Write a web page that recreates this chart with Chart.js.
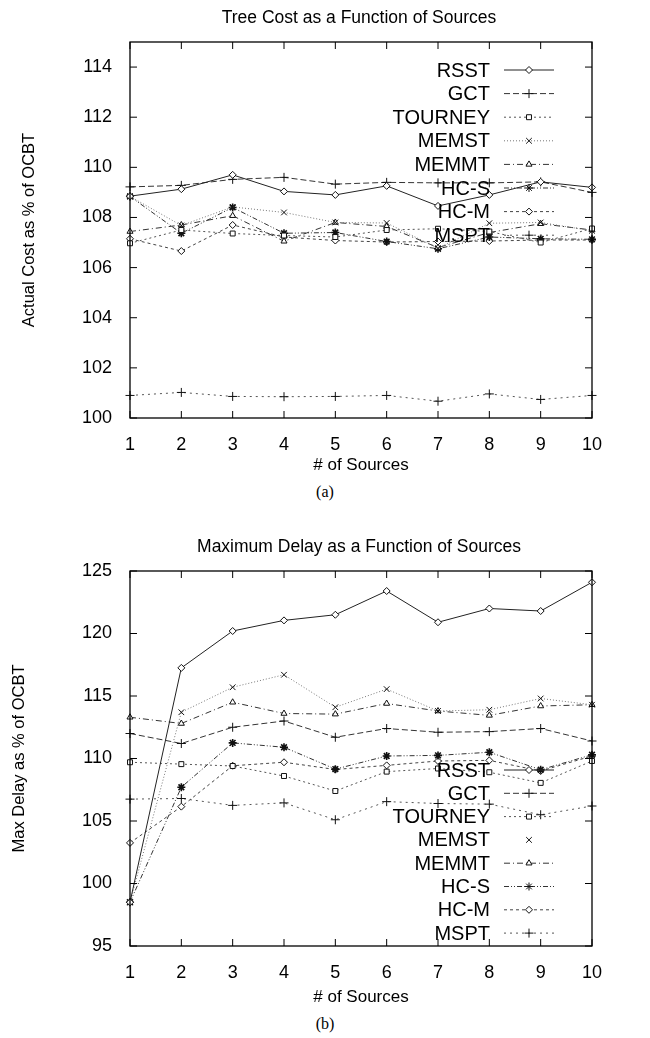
<!DOCTYPE html>
<html>
<head>
<meta charset="utf-8">
<script src="https://cdn.jsdelivr.net/npm/chart.js@4.4.1/dist/chart.umd.min.js"></script>
<style>
    body { margin: 0; background: #fff; width: 650px; height: 1038px; position: relative; overflow: hidden; }
    .box { position: absolute; left: 0; width: 650px; }
    .caption { position: absolute; left: 0; width: 650px; text-align: center; font-family: 'Liberation Serif', serif; font-size: 16px; color: #000; }
</style>
</head>
<body>
<div class="box" style="top:0;height:480px"><canvas id="costChart" width="650" height="480"></canvas></div>
<div class="caption" style="top:483px">(a)</div>
<div class="box" style="top:530px;height:482px"><canvas id="delayChart" width="650" height="482"></canvas></div>
<div class="caption" style="top:1015px">(b)</div>
<script>
const sources = [1, 2, 3, 4, 5, 6, 7, 8, 9, 10];
const names = ['RSST', 'GCT', 'TOURNEY', 'MEMST', 'MEMMT', 'HC-S', 'HC-M', 'MSPT'];

// tree cost, % of OCBT
const costRSST = [108.85, 109.13, 109.7, 109.04, 108.9, 109.26, 108.46, 108.9, 109.42, 109.2];
const costGCT = [109.22, 109.28, 109.52, 109.6, 109.33, 109.4, 109.38, 109.38, 109.42, 109.0];
const costTOURNEY = [106.97, 107.5, 107.36, 107.28, 107.22, 107.5, 107.55, 107.44, 107.0, 107.56];
const costMEMST = [108.84, 107.68, 108.42, 108.2, 107.8, 107.78, 106.77, 107.77, 107.8, 107.47];
const costMEMMT = [107.44, 107.7, 108.07, 107.05, 107.8, 107.64, 106.8, 107.4, 107.75, 107.5];
const costHCS = [108.84, 107.37, 108.4, 107.37, 107.4, 107.04, 106.75, 107.22, 107.15, 107.13];
const costHCM = [107.15, 106.66, 107.7, 107.22, 107.08, 107.02, 107.04, 107.06, 107.1, 107.1];
const costMSPT = [100.9, 101.02, 100.86, 100.85, 100.86, 100.9, 100.67, 100.96, 100.74, 100.9];

// max delay, % of OCBT
const delayRSST = [98.5, 117.25, 120.2, 121.05, 121.5, 123.4, 120.9, 122.0, 121.8, 124.1];
const delayGCT = [112.0, 111.2, 112.5, 113.0, 111.7, 112.4, 112.1, 112.15, 112.4, 111.4];
const delayTOURNEY = [109.7, 109.55, 109.4, 108.6, 107.4, 108.95, 109.2, 108.9, 108.05, 109.8];
const delayMEMST = [98.5, 113.7, 115.7, 116.7, 114.1, 115.55, 113.8, 113.9, 114.8, 114.3];
const delayMEMMT = [113.3, 112.8, 114.5, 113.6, 113.55, 114.4, 113.8, 113.45, 114.2, 114.3];
const delayHCS = [98.5, 107.7, 111.25, 110.9, 109.15, 110.2, 110.25, 110.5, 109.1, 110.3];
const delayHCM = [103.25, 106.15, 109.42, 109.7, 109.12, 109.45, 109.8, 109.85, 109.0, 110.2];
const delayMSPT = [106.75, 106.8, 106.25, 106.45, 105.1, 106.55, 106.4, 106.35, 105.5, 106.2];

const costTicks = [100, 102, 104, 106, 108, 110, 112, 114];
const delayTicks = [95, 100, 105, 110, 115, 120, 125];

const FONT = "'Liberation Sans', Arial, sans-serif";

// gnuplot-ish monochrome styles, one per method
const styles = [
    { color: '#222', dash: [], point: 'rectRot', r: 3.5 },
    { color: '#333', dash: [6, 3], point: 'cross', r: 4.5 },
    { color: '#555', dash: [2, 3], point: 'rect', r: 3.5 },
    { color: '#777', dash: [1, 2], point: 'crossRot', r: 4 },
    { color: '#333', dash: [6, 3, 1, 3], point: 'triangle', r: 3.5 },
    { color: '#333', dash: [5, 2, 1, 2, 1, 2], point: 'star', r: 4 },
    { color: '#444', dash: [3, 3], point: 'rectRot', r: 3.5 },
    { color: '#555', dash: [2, 4], point: 'cross', r: 4.5 }
];

function buildDatasets(series) {
    return series.map((values, i) => ({
        label: names[i],
        data: values,
        borderColor: styles[i].color,
        borderWidth: 1,
        borderDash: styles[i].dash,
        pointStyle: styles[i].point,
        pointRadius: styles[i].r,
        pointBorderColor: '#111',
        pointBackgroundColor: '#fff',
        pointBorderWidth: styles[i].point === 'star' ? 1.6 : 1,
        tension: 0,
        fill: false
    }));
}

// box round the plot with inward ticks on all four sides, title centred over the plot
const framePlugin = {
    id: 'frame',
    afterDatasetsDraw(chart, args, opts) {
        const { ctx, chartArea: a, scales } = chart;
        ctx.save();
        ctx.strokeStyle = '#000';
        ctx.lineWidth = 1.3;
        ctx.strokeRect(a.left, a.top, a.right - a.left, a.bottom - a.top);
        ctx.lineWidth = 1;
        ctx.beginPath();
        scales.x.ticks.forEach((t, i) => {
            const x = scales.x.getPixelForTick(i);
            ctx.moveTo(x, a.bottom); ctx.lineTo(x, a.bottom - 7);
            ctx.moveTo(x, a.top); ctx.lineTo(x, a.top + 7);
        });
        scales.y.ticks.forEach(t => {
            const y = scales.y.getPixelForValue(t.value);
            ctx.moveTo(a.left, y); ctx.lineTo(a.left + 7, y);
            ctx.moveTo(a.right, y); ctx.lineTo(a.right - 7, y);
        });
        ctx.stroke();
        ctx.fillStyle = '#000';
        ctx.font = '17.5px ' + FONT;
        ctx.textAlign = 'center';
        ctx.textBaseline = 'middle';
        ctx.fillText(opts.text, (a.left + a.right) / 2 - 2, a.top - 24);
        ctx.restore();
    }
};

// legend drawn inside the plot, labels right aligned with a sample to the right
const keyPlugin = {
    id: 'key',
    afterDatasetsDraw(chart, args, opts) {
        const { ctx, chartArea: a } = chart;
        const textX = a.right - opts.right;
        ctx.save();
        ctx.font = '20px ' + FONT;
        ctx.textAlign = 'right';
        ctx.textBaseline = 'middle';
        chart.data.datasets.forEach((ds, i) => {
            const y = a.top + opts.top + i * opts.step;
            ctx.fillStyle = '#000';
            ctx.fillText(ds.label, textX, y + 1);
            if (!(opts.pointOnly || []).includes(ds.label)) {
                ctx.strokeStyle = ds.borderColor;
                ctx.lineWidth = 1;
                ctx.setLineDash(ds.borderDash);
                ctx.beginPath();
                ctx.moveTo(textX + 14, y);
                ctx.lineTo(textX + 64, y);
                ctx.stroke();
                ctx.setLineDash([]);
            }
            ctx.strokeStyle = '#111';
            ctx.fillStyle = '#fff';
            Chart.helpers.drawPoint(ctx, {
                pointStyle: ds.pointStyle, rotation: 0,
                radius: ds.pointRadius, borderWidth: ds.pointBorderWidth
            }, textX + 39, y);
        });
        ctx.restore();
    }
};

function makeChart(id, cfg) {
    return new Chart(document.getElementById(id), {
        type: 'line',
        data: { labels: sources, datasets: buildDatasets(cfg.series) },
        options: {
            responsive: false,
            animation: false,
            layout: { padding: { top: cfg.padTop, right: 58, left: 0, bottom: 0 } },
            plugins: {
                legend: { display: false },
                tooltip: { enabled: false },
                title: { display: false },
                frame: { text: cfg.title },
                key: cfg.key
            },
            scales: {
                x: {
                    type: 'category',
                    offset: false,
                    grid: { display: false },
                    border: { display: false },
                    ticks: { color: '#000', font: { family: FONT, size: 18 }, padding: 8, maxRotation: 0 },
                    title: {
                        display: true, text: '# of Sources', color: '#000',
                        font: { family: FONT, size: 17 }, padding: { top: 0, bottom: 4 }
                    },
                    afterFit(scale) { scale.height = cfg.xHeight; }
                },
                y: {
                    min: cfg.min,
                    max: cfg.max,
                    afterBuildTicks(scale) { scale.ticks = cfg.ticks.map(v => ({ value: v })); },
                    grid: { display: false },
                    border: { display: false },
                    ticks: { color: '#000', font: { family: FONT, size: 18 }, padding: 10 },
                    title: {
                        display: true, text: cfg.yTitle, color: '#000',
                        font: { family: FONT, size: 16.5 }, padding: { top: cfg.yTitlePad, bottom: 0 }
                    },
                    afterFit(scale) { scale.width = 130; }
                }
            }
        },
        plugins: [framePlugin, keyPlugin]
    });
}

document.addEventListener('DOMContentLoaded', () => {
    makeChart('costChart', {
        title: 'Tree Cost as a Function of Sources',
        yTitle: 'Actual Cost as % of OCBT',
        series: [costRSST, costGCT, costTOURNEY, costMEMST, costMEMMT, costHCS, costHCM, costMSPT],
        min: 100, max: 115, ticks: costTicks,
        padTop: 42, xHeight: 62, yTitlePad: 20,
        key: { top: 28, step: 23.6, right: 102 }
    });
    makeChart('delayChart', {
        title: 'Maximum Delay as a Function of Sources',
        yTitle: 'Max Delay as % of OCBT',
        series: [delayRSST, delayGCT, delayTOURNEY, delayMEMST, delayMEMMT, delayHCS, delayHCM, delayMSPT],
        min: 95, max: 125, ticks: delayTicks,
        padTop: 41, xHeight: 66, yTitlePad: 10,
        key: { top: 199, step: 23.3, right: 102, pointOnly: ['MEMST'] }
    });
});
</script>
</body>
</html>
